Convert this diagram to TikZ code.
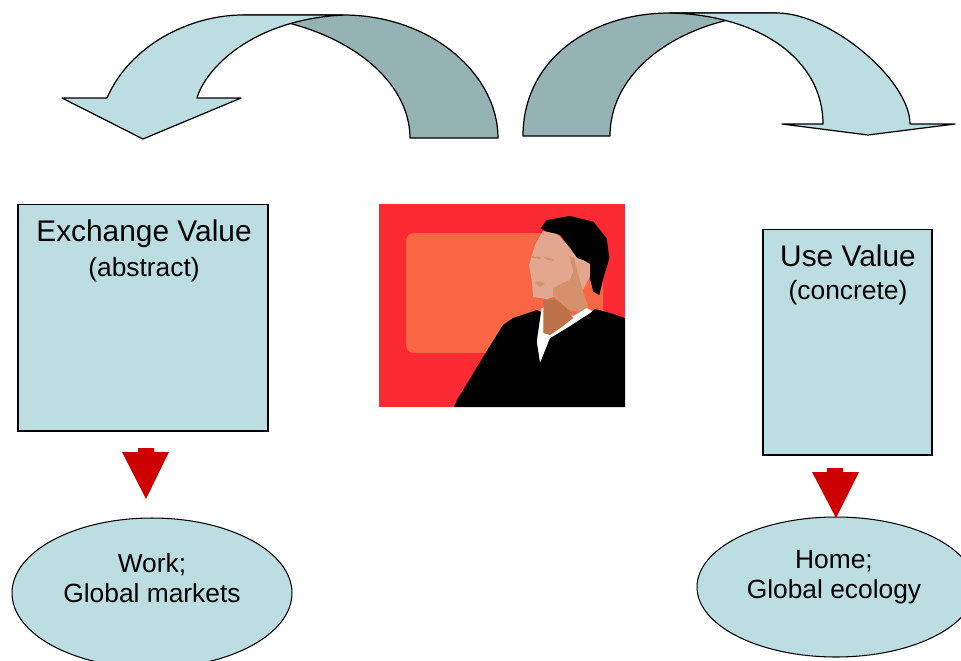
\documentclass[tikz,border=0pt]{standalone}
\usepackage{fontspec}
\setmainfont{Liberation Sans}
\usepackage{tikz}
\usetikzlibrary{shapes.geometric}

\definecolor{paleblue}{HTML}{BCDEE3}
\definecolor{greyblue}{HTML}{95B3B5}
\definecolor{darkred}{HTML}{CC0000}
\definecolor{slidered}{HTML}{FB2A33}
\definecolor{slideorange}{HTML}{F86643}
\definecolor{skin}{HTML}{E3A68E}
\definecolor{skindark}{HTML}{D5916B}
\definecolor{neckbrown}{HTML}{BE7049}

\begin{document}
\begin{tikzpicture}[x=0.02cm, y=-0.02cm,
    valuebox/.style={draw, fill=paleblue, line width=0.6pt, rectangle, inner sep=0pt},
    sphere/.style={draw, fill=paleblue, line width=0.6pt, ellipse, inner sep=0pt},
    heading/.style={anchor=base, font=\fontsize{17}{20}\selectfont},
    sub/.style={anchor=base, font=\fontsize{15}{17}\selectfont},
    frontband/.style={draw, fill=paleblue, line width=0.7pt, line join=round},
    backband/.style={draw, fill=greyblue, line width=0.7pt, line join=round}]
  \useasboundingbox (0,0) rectangle (961,660);

  % curved arrow going left
  \path[backband] (410,138) -- (498,138) .. controls (498,75) and (432,15) .. (343,15)
    -- (243,15) .. controls (345,25) and (410,80) .. (410,138) -- cycle;
  \path[frontband] (62,98) -- (107,98) .. controls (130,45) and (190,15) .. (243,15)
    -- (343,15) .. controls (250,20) and (205,70) .. (197,98)
    -- (241,98) -- (143,139) -- cycle;

  % curved arrow going right
  \path[backband] (523,136) .. controls (523,60) and (590,13) .. (670,13)
    -- (777,13) .. controls (680,18) and (610,70) .. (610,136) -- cycle;
  \path[frontband] (670,13) -- (777,13) .. controls (830,13) and (910,80) .. (910,124)
    -- (955,124) -- (868,135) -- (782,124) -- (823,124)
    .. controls (823,60) and (760,15) .. (670,13) -- cycle;

  % the two values
  \node[valuebox, minimum width=5cm, minimum height=4.54cm] (exch) at (143,317.5) {};
  \node[valuebox, minimum width=3.38cm, minimum height=4.52cm] (use) at (847.5,342) {};
  \node[heading] (exchT) at (144,241) {Exchange Value};
  \node[sub] (exchS) at (144,276) {(abstract)};
  \node[heading] (useT) at (848,266) {Use Value};
  \node[sub] (useS) at (848,299) {(concrete)};

  % where they live
  \node[sphere, minimum width=5.6cm, minimum height=3cm] (work) at (152,593) {};
  \node[sphere, minimum width=5.56cm, minimum height=2.8cm] (home) at (836,587) {};
  \node[sub] (workA) at (152,572) {Work;};
  \node[sub] (workB) at (152,602) {Global markets};
  \node[sub] (homeA) at (834,568) {Home;};
  \node[sub] (homeB) at (834,598) {Global ecology};

  % red block arrows
  \fill[darkred] (138,448) -- (154,448) -- (154,452) -- (169,452) -- (146,499)
    -- (122,452) -- (138,452) -- cycle;
  \fill[darkred] (827,468) -- (843,468) -- (843,472) -- (859,472) -- (836,518)
    -- (812,472) -- (827,472) -- cycle;

  % presenter in front of a slide
  \fill[slidered] (379,204) rectangle (625,407);
  \fill[slideorange, rounded corners=0.16cm] (406,233) rectangle (603,353);
  \fill[black] (540.7,228.3) -- (546.7,220) -- (570,216) -- (593.3,221.7) -- (606.7,238.3)
    -- (609.3,258.3) -- (603.3,278.3) -- (599.3,295) -- (593.3,291.7) -- (590,278.3)
    -- (586.7,261.7) -- (576.7,258.3) -- (570,248.3) -- (560,235) -- (546.7,231.7) -- cycle;
  \fill[skin] (543,231) -- (535,245) -- (529,265) -- (532,282) -- (533,297) -- (547,299)
    -- (560,295) -- (570,295) -- (583,290) -- (590,276) -- (590,264) -- (583,260)
    -- (577,258) -- (570,248) -- (557,234) -- cycle;
  \fill[skindark] (569.3,255.7) -- (574,258.3) -- (579.3,278.3) -- (583.3,291.7)
    -- (588.3,306.7) -- (580,311.7) -- (570,310) -- (560,305) -- (552.7,295)
    -- (553.3,288.3) -- (561.7,283.3) -- (570,280) -- (573.3,271.7) -- cycle;
  \draw[skindark, line width=1pt, line cap=round] (532,257) -- (540,258) (545,258) -- (553,260);
  \fill[skindark] (535,283) -- (540,281) -- (545,284) -- (540,287) -- cycle;
  \fill[white] (541.7,308.3) -- (538.3,321.7) -- (536.7,341.7) -- (540,363.3) -- (550,338.3)
    -- (566.7,328.3) -- (576.7,321.7) -- (590,313.3) -- (593.3,311.7) -- (586.7,308)
    -- (573.3,316) -- (548.3,305) -- cycle;
  \fill[neckbrown] (543.3,300) -- (556.7,300) -- (566.7,308.3) -- (573.3,318)
    -- (560,328.3) -- (550,335) -- (543.3,333) -- cycle;
  \fill[black] (454,407) -- (458,398) -- (462,392) -- (480,362) -- (503,325) -- (513,318)
    -- (537,310) -- (541,312) -- (536.7,341.7) -- (540,363.3) -- (550,338.3)
    -- (566.7,328.3) -- (590,313.3) -- (595,309) -- (610,313) -- (625,318)
    -- (625,407) -- cycle;
\end{tikzpicture}
\end{document}
